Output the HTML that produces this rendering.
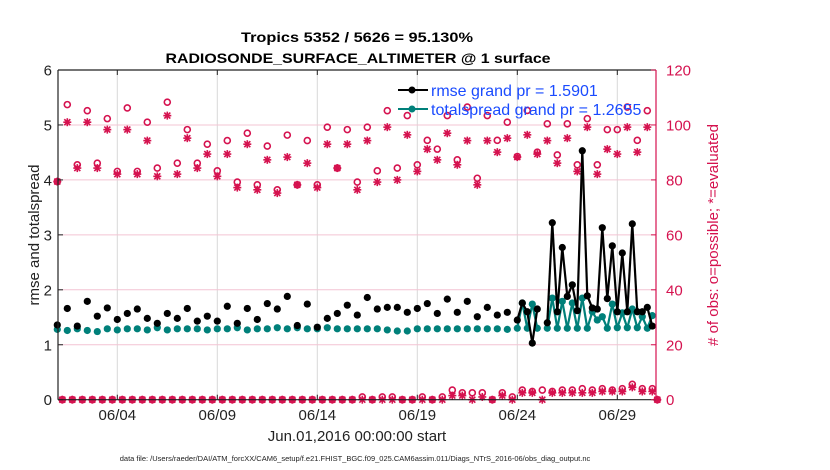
<!DOCTYPE html>
<html><head><meta charset="utf-8"><style>
html,body{margin:0;padding:0;background:#fff;}
svg{display:block;font-family:"Liberation Sans",sans-serif;}
</style></head><body>
<svg id="chart" width="830" height="470" viewBox="0 0 830 470">
<g id="grid"></g>
<g id="marks"></g>
<g id="axes"></g>
<text x="357" y="42" text-anchor="middle" font-size="14" font-weight="bold" textLength="232" lengthAdjust="spacingAndGlyphs">Tropics 5352 / 5626 = 95.130%</text>
<text x="358" y="63" text-anchor="middle" font-size="14" font-weight="bold" textLength="385" lengthAdjust="spacingAndGlyphs">RADIOSONDE_SURFACE_ALTIMETER @ 1 surface</text>
<text transform="translate(39,235) rotate(-90)" text-anchor="middle" font-size="15" fill="#222">rmse and totalspread</text>
<text transform="translate(718,235) rotate(-90)" text-anchor="middle" font-size="15" fill="#d5124f"># of obs: o=possible; *=evaluated</text>
<text x="357" y="441" text-anchor="middle" font-size="15" fill="#222">Jun.01,2016 00:00:00 start</text>
<text x="355" y="461" text-anchor="middle" font-size="7.5" fill="#222">data file: /Users/raeder/DAI/ATM_forcXX/CAM6_setup/f.e21.FHIST_BGC.f09_025.CAM6assim.011/Diags_NTrS_2016-06/obs_diag_output.nc</text>
<g>
<line x1="398" y1="90" x2="428" y2="90" stroke="#000" stroke-width="2"/>
<circle cx="412" cy="90" r="3.5" fill="#000"/>
<text x="431" y="96" font-size="16" fill="#1a4bff">rmse grand pr = 1.5901</text>
<line x1="398" y1="109" x2="428" y2="109" stroke="#00807a" stroke-width="2"/>
<circle cx="412" cy="109" r="3.5" fill="#00807a"/>
<text x="431" y="115" font-size="16" fill="#1a4bff">totalspread grand pr = 1.2655</text>
</g>
</svg>
<script>
// 12-hourly (00Z/12Z) values, days 0 .. 22.5
const rmseMain = [1.36,1.66,1.34,1.79,1.52,1.67,1.46,1.57,1.65,1.48,1.39,1.57,1.48,1.66,1.43,1.52,1.43,1.70,1.39,1.66,1.46,1.75,1.65,1.88,1.35,1.74,1.32,1.48,1.57,1.72,1.54,1.86,1.65,1.68,1.68,1.59,1.66,1.75,1.57,1.83,1.59,1.79,1.51,1.68,1.54,1.59];
const spreadMain = [1.28,1.26,1.29,1.26,1.24,1.29,1.27,1.29,1.29,1.27,1.31,1.27,1.29,1.29,1.29,1.27,1.29,1.29,1.31,1.27,1.29,1.29,1.31,1.29,1.31,1.29,1.29,1.31,1.29,1.29,1.29,1.29,1.29,1.27,1.25,1.25,1.29,1.29,1.29,1.29,1.29,1.29,1.29,1.29,1.29,1.28];
// 6-hourly values, days 23.0 .. 29.75
const rmseLate = [1.45,1.76,1.60,1.03,1.65,null,1.40,3.22,1.60,2.77,1.88,2.09,1.62,4.53,1.89,1.67,1.65,3.13,1.84,2.80,1.60,2.67,1.60,3.20,1.60,1.60,1.68,1.34];
const spreadLate = [1.30,1.76,1.30,1.74,1.30,null,1.30,1.85,1.30,1.79,1.30,1.76,1.30,1.85,1.30,1.60,1.45,1.51,1.30,1.74,1.31,1.58,1.31,1.65,1.31,1.51,1.30,1.53];
// obs counts at 00Z/12Z, days 0 .. 29.5, then day 30
const possibleMain = [79.4,107.4,85.5,105.2,86.1,102.3,83.1,106.2,83.1,101,84.3,108.3,86.1,98.3,86.1,93,83.3,94.3,79.2,97,78.2,92.3,76.4,96.3,78.2,94.3,78.2,99.2,84.3,98.3,79.2,99.2,83.3,105.2,84.3,103.4,85.5,94.4,91.2,103.4,87.3,106.5,80.6,103.4,94.4,101,88.5,105.3,90.1,100.4,89.1,100.4,85.5,102.3,85.5,98.3,98.3,106.5,94.4,105.2,0];
const evaluatedMain = [79.4,101,84.3,101,84.3,98.3,82.1,98.3,82.1,94.3,81.3,103.4,82.1,95.2,84.3,89.4,81.3,89.4,77.2,93,76.4,87.3,75.2,88.3,78.2,86.1,77.2,93,84.3,93,76.4,94.3,79.2,99.2,80,96.4,83.1,91.2,87.3,97,85.5,94.3,78.2,94.3,90.1,95.2,88.3,96.4,89.4,94.3,86.1,95.2,83.1,99.2,82.1,91.2,89.4,99.2,90.1,99.2,0];
// obs counts at 06Z/18Z, days 0.25 .. 29.75
const possibleMinor = [0,0,0,0,0,0,0,0,0,0,0,0,0,0,0,0,0,0,0,0,0,0,0,0,0,0,0,0,0,0,1,0,1,1,0,0,1,0,1,3.5,2.5,2.5,2.5,0,2.5,1,3.5,3,3.5,3,3.5,3.5,4,3.5,4,3.5,4,5.6,4,4];
const evaluatedMinor = [0,0,0,0,0,0,0,0,0,0,0,0,0,0,0,0,0,0,0,0,0,0,0,0,0,0,0,0,0,0,0,0,0,0,0,0,0,0,0,1.5,1.5,0,1,0,1.5,0,2.5,2.5,0,2.5,2.5,2.5,2.5,2.5,3,3,3,4.5,3,3];
const xTickLabels = ["06/04","06/09","06/14","06/19","06/24","06/29"];
const xTickDays = [3,8,13,18,23,28];
const yLeftTicks = [0,1,2,3,4,5,6];
const yRightTicks = [0,20,40,60,80,100,120];

const X0=57.3, PXDAY=20, PL=58, PR=656, PT=70, PB=399.7;
const xs = d => X0 + d*PXDAY;
const yl = v => PB - (PB-PT)*v/6;
const yr = v => PB - (PB-PT)*v/120;
const NS='http://www.w3.org/2000/svg';
function mk(tag, attrs, parent){const e=document.createElementNS(NS,tag);for(const k in attrs)e.setAttribute(k,attrs[k]);parent.appendChild(e);return e;}
const grid=document.getElementById('grid'), marks=document.getElementById('marks'), axes=document.getElementById('axes');

// grid
xTickDays.forEach(d=>{const l=mk('line',{x1:xs(d),x2:xs(d),y1:PT,y2:PB,stroke:'#d8d8d8','stroke-width':1},grid);

});
yLeftTicks.slice(1,6).forEach(v=>{const l=mk('line',{x1:PL,x2:PR,y1:yl(v),y2:yl(v),stroke:'#f3c4d3','stroke-width':1},grid);

});

// build series (6-hour index)
function series(main, late){const pts=[];main.forEach((v,k)=>pts.push({d:k*0.5,v}));late.forEach((v,j)=>pts.push({d:23+j*0.25,v}));return pts;}
const rmsePts=series(rmseMain.slice(0,46), rmseLate);
const spreadPts=series(spreadMain.slice(0,46), spreadLate);
function drawSeries(pts, color, name){
  // lines only between consecutive 6-hour points
  for(let i=1;i<pts.length;i++){const a=pts[i-1],b=pts[i];
    if(a.v!=null&&b.v!=null&&Math.abs(b.d-a.d-0.25)<1e-6){
      const l=mk('line',{x1:xs(a.d),y1:yl(a.v),x2:xs(b.d),y2:yl(b.v),stroke:color,'stroke-width':2.2},marks);
      
      }}
  pts.forEach(p=>{if(p.v==null)return;const c=mk('circle',{cx:xs(p.d),cy:yl(p.v),r:3.6,fill:color},marks);
    
    });
}
// obs counts
const PINK='#d5124f';
function star(cx,cy){const g=mk('g',{stroke:PINK,'stroke-width':1.6},marks);
  
  
  mk('line',{x1:cx-4,y1:cy,x2:cx+4,y2:cy},g);mk('line',{x1:cx,y1:cy-4,x2:cx,y2:cy+4},g);
  mk('line',{x1:cx-3,y1:cy-3,x2:cx+3,y2:cy+3},g);mk('line',{x1:cx-3,y1:cy+3,x2:cx+3,y2:cy-3},g);}
function ring(cx,cy){const c=mk('circle',{cx,cy,r:3,fill:'none',stroke:PINK,'stroke-width':1.6},marks);
  
  }
possibleMain.forEach((v,k)=>ring(xs(k*0.5),yr(v)));
evaluatedMain.forEach((v,k)=>star(xs(k*0.5),yr(v)));
possibleMinor.forEach((v,m)=>ring(xs(0.25+m*0.5),yr(v)));
evaluatedMinor.forEach((v,m)=>star(xs(0.25+m*0.5),yr(v)));

drawSeries(spreadPts,'#00807a','totalspread');
drawSeries(rmsePts,'#000','rmse');

// axes
let e=mk('line',{x1:PL,y1:PT,x2:PL,y2:PB,stroke:'#222','stroke-width':1.2},axes);


e=mk('line',{x1:PL,y1:PT,x2:PR,y2:PT,stroke:'#222','stroke-width':1.2},axes);


e=mk('line',{x1:PL,y1:PB,x2:PR,y2:PB,stroke:'#222','stroke-width':1.2},axes);


e=mk('line',{x1:PR,y1:PT,x2:PR,y2:PB,stroke:PINK,'stroke-width':1.2},axes);


xTickDays.forEach((d,i)=>{
  mk('line',{x1:xs(d),x2:xs(d),y1:PB,y2:PB-5,stroke:'#222'},axes);
  mk('line',{x1:xs(d),x2:xs(d),y1:PT,y2:PT+5,stroke:'#222'},axes);
  const t=mk('text',{x:xs(d),y:420,'text-anchor':'middle','font-size':15,fill:'#222'},axes);t.textContent=xTickLabels[i];
  
  });
yLeftTicks.forEach(v=>{
  mk('line',{x1:PL,x2:PL+5,y1:yl(v),y2:yl(v),stroke:'#222'},axes);
  const t=mk('text',{x:52,y:yl(v)+5.5,'text-anchor':'end','font-size':15,fill:'#222'},axes);t.textContent=v;
  
  });
yRightTicks.forEach(v=>{
  mk('line',{x1:PR-5,x2:PR,y1:yr(v),y2:yr(v),stroke:PINK},axes);
  const t=mk('text',{x:666,y:yr(v)+5.5,'text-anchor':'start','font-size':15,fill:PINK},axes);t.textContent=v;
  
  });
</script>
</body></html>
